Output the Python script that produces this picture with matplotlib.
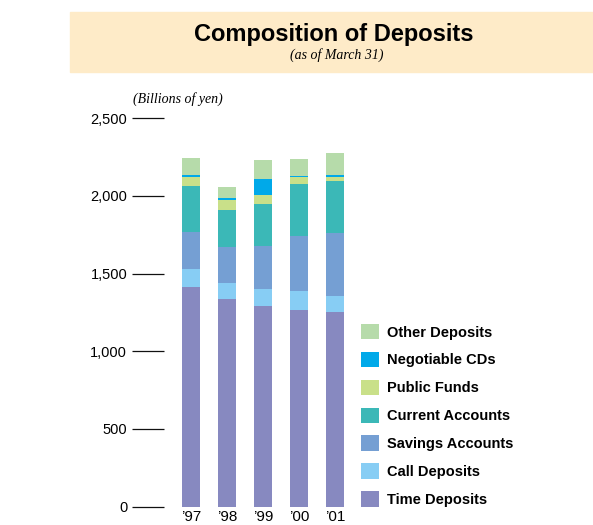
import numpy as np
import matplotlib.pyplot as plt
from matplotlib.patches import Rectangle

years = ["\u201997", "\u201998", "\u201999", "\u201900", "\u201901"]

# billions of yen, bottom to top
time_dep = [1413, 1336, 1291, 1265, 1252]
call_dep = [116, 103, 109, 123, 104]
savings = [239, 232, 277, 357, 405]
current = [296, 238, 271, 332, 335]
public = [58, 65, 58, 45, 26]
ncds = [13, 12, 103, 6, 13]
other = [109, 71, 122, 110, 141]

series = [
    ("Time Deposits", time_dep, "#8789C0"),
    ("Call Deposits", call_dep, "#87CDF4"),
    ("Savings Accounts", savings, "#759FD3"),
    ("Current Accounts", current, "#3BB8B7"),
    ("Public Funds", public, "#C9E089"),
    ("Negotiable CDs", ncds, "#00A9E9"),
    ("Other Deposits", other, "#B6DBAA"),
]

W, H = 593, 525
fig = plt.figure(figsize=(W / 100, H / 100), dpi=100)

# title band
fig.patches.append(Rectangle((70 / W, 1 - 72 / H), (W - 70) / W, 60 / H,
                             transform=fig.transFigure, color="#FEEBC8", zorder=0))
fig.text(334 / W, 1 - 35 / H, "Composition of Deposits", ha="center", va="center",
         fontsize=17, fontweight="heavy", family=["Liberation Sans", "DejaVu Sans"])
fig.text(337 / W, 1 - 55 / H, "(as of March 31)", ha="center", va="center",
         fontsize=10, style="italic", family=["Liberation Serif", "DejaVu Serif"])
fig.text(133 / W, 1 - 99 / H, "(Billions of yen)", ha="left", va="center",
         fontsize=10, style="italic", family=["Liberation Serif", "DejaVu Serif"])

left, right = 164, 350
ax = fig.add_axes([left / W, 1 - 506.5 / H, (right - left) / W, (506.5 - 118.3) / H])
x = np.arange(len(years))
bottom = np.zeros(len(years))
handles = []
for name, vals, col in series:
    b = ax.bar(x, vals, width=0.5, bottom=bottom, color=col, label=name, linewidth=0)
    handles.append(b)
    bottom += np.array(vals)

ax.set_xlim(-27 / 36, (right - 191) / 36)
ax.set_ylim(0, 2500)
for s in ax.spines.values():
    s.set_visible(False)
ax.set_yticks([0, 500, 1000, 1500, 2000, 2500])
ax.set_yticklabels(["0", "500", "1,000", "1,500", "2,000", "2,500"])
ax.tick_params(axis="y", length=23, width=0.9, pad=3.5, labelsize=10.5, color="#111111")
ax.set_xticks(x)
ax.set_xticklabels(years)
ax.tick_params(axis="x", length=0, pad=2.5, labelsize=11)
for lab in ax.get_xticklabels() + ax.get_yticklabels():
    lab.set_family(["Liberation Sans", "DejaVu Sans"])

leg = fig.legend(handles[::-1], [s[0] for s in series[::-1]],
                 loc="upper left", bbox_to_anchor=(361 / W, 1 - 324 / H),
                 frameon=False, borderpad=0, borderaxespad=0,
                 handlelength=1.25, handleheight=1.25, handletextpad=0.55,
                 labelspacing=0.84,
                 prop={"family": ["Liberation Sans", "DejaVu Sans"],
                       "weight": "bold", "size": 10.5})

plt.savefig("out.png", dpi=100)
